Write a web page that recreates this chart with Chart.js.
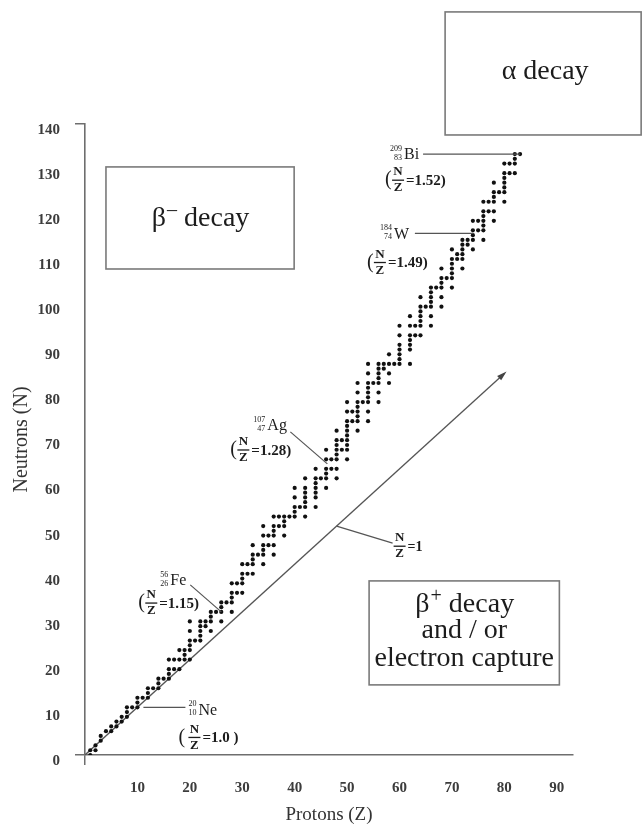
<!DOCTYPE html>
<html>
<head>
<meta charset="utf-8">
<script src="https://cdn.jsdelivr.net/npm/chart.js@4.4.0/dist/chart.umd.min.js"></script>
<style>
  html, body { margin: 0; padding: 0; background: #fff; }
</style>
</head>
<body>
<canvas id="nuclideChart" width="642" height="826"></canvas>
<script>

// stable nuclides: proton number and the neutron numbers of its stable isotopes
const protonNumbers = [1,2,3,4,5,6,7,8,9,10,11,12,13,14,15,16,17,18,19,20,
  21,22,23,24,25,26,27,28,29,30,31,32,33,34,35,36,37,38,39,40,41,42,44,45,46,47,48,49,50,
  51,52,53,54,55,56,57,58,59,60,62,63,64,65,66,67,68,69,70,71,72,73,74,75,76,77,78,79,80,81,82,83];
const neutronNumbers = [
  [0,1],[1,2],[3,4],[5],[5,6],[6,7],[7,8],[8,9,10],[10],[10,11,12],
  [12],[12,13,14],[14],[14,15,16],[16],[16,17,18,20],[18,20],[18,20,22],[20,21,22],[20,22,23,24,26,28],
  [24],[24,25,26,27,28],[27,28],[26,28,29,30],[30],[28,30,31,32],[32],[30,32,33,34,36],[34,36],[34,36,37,38,40],
  [38,40],[38,40,41,42,44],[42],[40,42,43,44,46,48],[44,46],[42,44,46,47,48,50],[48,50],[46,48,49,50],[50],[50,51,52,54,56],
  [52],[50,52,53,54,55,56,58],[52,54,55,56,57,58,60],[58],[56,58,59,60,62,64],[60,62],[58,60,62,63,64,65,66,68],[64,66],
  [62,64,65,66,67,68,69,70,72,74],
  [70,72],[68,70,71,72,73,74,76,78],[74],[70,72,74,75,76,77,78,80,82],[78],[74,76,78,79,80,81,82],[81,82],[78,80,82,84],[82],
  [82,83,84,85,86,88,90],[82,85,86,87,88,90,92],[88,90],[88,90,91,92,93,94,96],[94],[90,92,94,95,96,97,98],[98],
  [94,96,98,99,100,102],[100],[98,100,101,102,103,104,106],[104,105],[102,104,105,106,107,108],[107,108],
  [106,108,109,110,112],[110,112],[108,110,111,112,113,114,116],[114,116],[112,114,116,117,118,120],[118],
  [116,118,119,120,121,122,124],[122,124],[122,124,125,126],[126]
];

// the N = Z reference line
const equalLineZ = [0, 80];
const equalLineN = [0, 80];

// nuclides called out on the chart
const calloutSymbols = ['Ne', 'Fe', 'Ag', 'W', 'Bi'];
const calloutZ = [10, 26, 47, 74, 83];
const calloutA = [20, 56, 107, 184, 209];
const calloutRatio = ['1.0', '1.15', '1.28', '1.49', '1.52'];

const zTicks = [10, 20, 30, 40, 50, 60, 70, 80, 90];
const nTicks = [0, 10, 20, 30, 40, 50, 60, 70, 80, 90, 100, 110, 120, 130, 140];

const serif = '"Liberation Serif", "Times New Roman", serif';
const axisGray = '#6e6e6e';
const inkColor = '#1c1c1c';

let nuclidePoints = [];
protonNumbers.forEach((z, i) => {
    neutronNumbers[i].forEach(n => nuclidePoints.push({x: z, y: n}));
});

let equalLine = equalLineZ.map((z, i) => ({x: z, y: equalLineN[i]}));

function drawNuclide(ctx, x, y, mass, z, sym){
    ctx.textAlign = 'right';
    ctx.textBaseline = 'middle';
    ctx.font = '8px ' + serif;
    let w = Math.max(ctx.measureText(String(mass)).width, ctx.measureText(String(z)).width);
    ctx.fillText(String(mass), x + w, y - 5);
    ctx.fillText(String(z), x + w, y + 4);
    ctx.textAlign = 'left';
    ctx.font = '16px ' + serif;
    ctx.fillText(sym, x + w + 2, y + 1);
    return x + w + 2 + ctx.measureText(sym).width;
}

function drawFraction(ctx, cx, y){
    ctx.textAlign = 'center';
    ctx.textBaseline = 'middle';
    ctx.font = 'bold 13px ' + serif;
    ctx.fillText('N', cx, y - 8);
    ctx.fillText('Z', cx, y + 8);
    ctx.fillRect(cx - 6, y - 0.5, 12, 1.3);
}

function drawRatio(ctx, x, y, value, spaced){
    ctx.textBaseline = 'middle';
    ctx.textAlign = 'left';
    ctx.font = '20px ' + serif;
    ctx.fillText('(', x, y);
    let cx = x + (spaced ? 16 : 13);
    drawFraction(ctx, cx, y);
    ctx.textAlign = 'left';
    ctx.font = 'bold 15px ' + serif;
    let text = '=' + value + (spaced ? ' )' : ')');
    ctx.fillText(text, cx + 8, y + 1);
}

function drawSupText(ctx, cx, cy, base, sup, rest, size){
    let big = size + 'px ' + serif;
    let small = Math.round(size * 0.7) + 'px ' + serif;
    ctx.font = big;
    let wb = ctx.measureText(base).width;
    let wr = ctx.measureText(rest).width;
    ctx.font = small;
    let ws = ctx.measureText(sup).width;
    let left = cx - (wb + ws + wr) / 2;
    let baseY = cy + size * 0.3;
    ctx.textAlign = 'left';
    ctx.textBaseline = 'alphabetic';
    ctx.font = big;
    ctx.fillText(base, left, baseY);
    ctx.font = small;
    ctx.fillText(sup, left + wb + 1, baseY - size * 0.38);
    ctx.font = big;
    ctx.fillText(rest, left + wb + ws + 1, baseY);
}

function drawCentered(ctx, cx, cy, text, size){
    ctx.font = size + 'px ' + serif;
    ctx.textAlign = 'center';
    ctx.textBaseline = 'middle';
    ctx.fillText(text, cx, cy);
}

// label and leader offsets in pixels from each called-out nuclide
const calloutLayout = {
    Ne: {label: [51, 2], leadFrom: [6, 0], leadTo: [48, 0], ratio: [41, 30], spaced: true},
    Fe: {label: [-61, -32], leadFrom: [0, 0], leadTo: [-31, -27], ratio: [-83, -9]},
    Ag: {label: [-78, -44], leadFrom: [-4, -5], leadTo: [-41, -37], ratio: [-101, -19]},
    W:  {label: [-93, 3], leadFrom: [0, 3], leadTo: [-58, 3], ratio: [-106, 32]},
    Bi: {label: [-130, 0], leadFrom: [0, 0], leadTo: [-97, 0], ratio: [-135, 26]}
};

const decayNotes = {
    id: 'decayNotes',
    afterDatasetsDraw(chart){
        let ctx = chart.ctx;
        let xs = chart.scales.x;
        let ys = chart.scales.y;
        let px = v => xs.getPixelForValue(v);
        let py = v => ys.getPixelForValue(v);

        ctx.save();

        // decay region boxes
        ctx.strokeStyle = '#7a7a7a';
        ctx.lineWidth = 1.6;
        ctx.strokeRect(px(4.0), py(123.3), px(39.9) - px(4.0), py(101.9) - py(123.3));
        ctx.strokeRect(px(68.7), py(155.8), px(106.1) - px(68.7), py(130) - py(155.8));
        ctx.strokeRect(px(54.2), py(36.5), px(90.5) - px(54.2), py(14.7) - py(36.5));

        ctx.fillStyle = inkColor;
        drawSupText(ctx, (px(4.0) + px(39.9)) / 2, (py(123.3) + py(101.9)) / 2, 'β', '–', ' decay', 28);
        drawCentered(ctx, (px(68.7) + px(106.1)) / 2 + 2, (py(155.8) + py(130)) / 2 - 2, 'α decay', 28);
        let bx = (px(54.2) + px(90.5)) / 2;
        let by = (py(36.5) + py(14.7)) / 2;
        drawSupText(ctx, bx, by - 29, 'β', '+', ' decay', 28);
        drawCentered(ctx, bx, by - 2, 'and / or', 28);
        drawCentered(ctx, bx, by + 26, 'electron capture', 28);

        // arrow head on the N = Z line
        let last = equalLine[equalLine.length - 1];
        let prev = equalLine[0];
        let ex = px(last.x), ey = py(last.y);
        let ang = Math.atan2(ey - py(prev.y), ex - px(prev.x));
        ctx.fillStyle = '#444';
        ctx.beginPath();
        ctx.moveTo(ex + 3 * Math.cos(ang), ey + 3 * Math.sin(ang));
        ctx.lineTo(ex - 7 * Math.cos(ang) + 3 * Math.sin(ang), ey - 7 * Math.sin(ang) - 3 * Math.cos(ang));
        ctx.lineTo(ex - 7 * Math.cos(ang) - 3 * Math.sin(ang), ey - 7 * Math.sin(ang) + 3 * Math.cos(ang));
        ctx.closePath();
        ctx.fill();

        // N/Z = 1 label
        let lx = px(48), ly = py(48);
        ctx.strokeStyle = '#555';
        ctx.lineWidth = 1.2;
        ctx.beginPath();
        ctx.moveTo(lx, ly);
        ctx.lineTo(lx + 56, ly + 17);
        ctx.stroke();
        ctx.fillStyle = inkColor;
        drawFraction(ctx, lx + 63, ly + 20);
        ctx.font = 'bold 14px ' + serif;
        ctx.textAlign = 'left';
        ctx.fillText('=1', lx + 71, ly + 21);

        // called-out nuclides
        calloutSymbols.forEach((sym, i) => {
            let z = calloutZ[i];
            let n = calloutA[i] - z;
            let lay = calloutLayout[sym];
            let mx = px(z), my = py(n);
            ctx.strokeStyle = '#555';
            ctx.lineWidth = 1.2;
            ctx.beginPath();
            ctx.moveTo(mx + lay.leadFrom[0], my + lay.leadFrom[1]);
            ctx.lineTo(mx + lay.leadTo[0], my + lay.leadTo[1]);
            ctx.stroke();
            ctx.fillStyle = inkColor;
            drawNuclide(ctx, mx + lay.label[0], my + lay.label[1], calloutA[i], z, sym);
            drawRatio(ctx, mx + lay.ratio[0], my + lay.ratio[1], calloutRatio[i], lay.spaced);
        });

        ctx.restore();
    }
};

let nuclideChart = new Chart(document.getElementById('nuclideChart'), {
    type: 'scatter',
    data: {
        datasets: [
            {
                data: nuclidePoints,
                backgroundColor: '#111',
                borderWidth: 0,
                pointRadius: 2.1,
                pointHoverRadius: 2.1
            },
            {
                type: 'line',
                data: equalLine,
                borderColor: '#555',
                borderWidth: 1.3,
                pointRadius: 0,
                fill: false
            }
        ]
    },
    options: {
        responsive: false,
        animation: false,
        devicePixelRatio: 1,
        layout: {padding: {top: 124, right: 69, bottom: 0, left: 0}},
        plugins: {legend: {display: false}, tooltip: {enabled: false}},
        scales: {
            x: {
                type: 'linear',
                position: 'bottom',
                min: 0,
                max: 93.1,
                afterFit: scale => { scale.height = 71; },
                afterBuildTicks: scale => {
                    scale.ticks = [{value: 0}].concat(zTicks.map(v => ({value: v})));
                },
                ticks: {
                    padding: 14,
                    color: '#3c3c3c',
                    font: {family: serif, size: 15, weight: 'bold'},
                    callback: v => (v === 0 ? '' : v)
                },
                grid: {
                    drawOnChartArea: false,
                    drawTicks: true,
                    tickLength: 10,
                    lineWidth: 1.5,
                    color: c => (c.tick && c.tick.value === 0 ? axisGray : 'rgba(0,0,0,0)')
                },
                border: {display: true, color: axisGray, width: 1.6},
                title: {
                    display: true,
                    text: 'Protons (Z)',
                    color: '#333',
                    font: {family: serif, size: 19},
                    padding: {top: 0, bottom: 0}
                }
            },
            y: {
                type: 'linear',
                display: false,
                min: 0,
                max: 132.3
            },
            yTicks: {
                type: 'linear',
                position: 'left',
                min: 0,
                max: 140,
                afterFit: scale => { scale.width = 85; },
                afterBuildTicks: scale => {
                    scale.ticks = nTicks.map(v => ({value: v}));
                },
                ticks: {
                    padding: 15,
                    labelOffset: 6,
                    color: '#3c3c3c',
                    font: {family: serif, size: 15, weight: 'bold'}
                },
                grid: {
                    drawOnChartArea: false,
                    drawTicks: true,
                    tickLength: 10,
                    lineWidth: 1.5,
                    color: c => (c.tick && (c.tick.value === 0 || c.tick.value === 140) ? axisGray : 'rgba(0,0,0,0)')
                },
                border: {display: true, color: axisGray, width: 1.6},
                title: {
                    display: true,
                    text: 'Neutrons (N)',
                    color: '#333',
                    font: {family: serif, size: 20},
                    padding: {top: 10, bottom: 0}
                }
            }
        }
    },
    plugins: [decayNotes]
});
</script>
</body>
</html>
